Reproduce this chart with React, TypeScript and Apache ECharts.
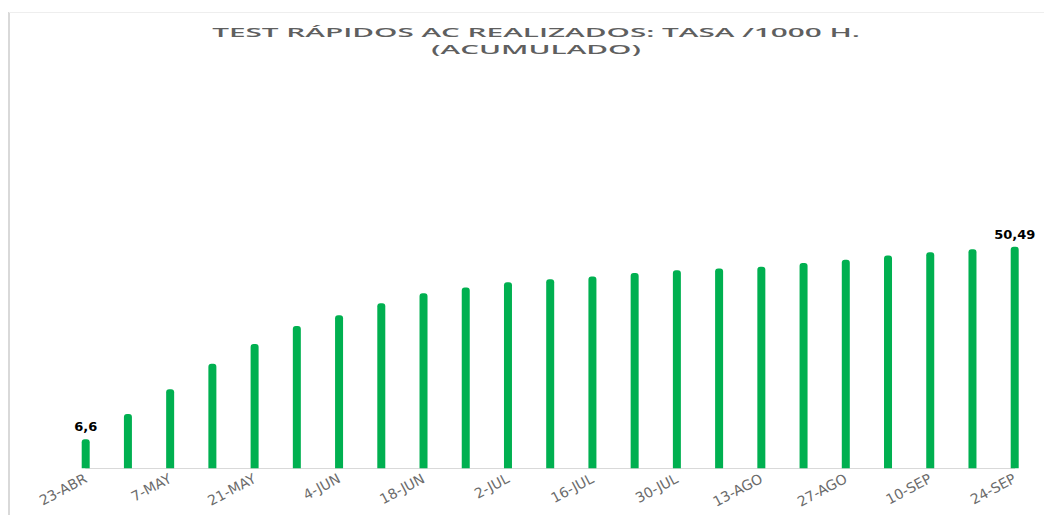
import React, { useEffect, useRef } from "react";
import * as echarts from "echarts";

const categories = [
  "23-ABR", "30-ABR", "7-MAY", "14-MAY", "21-MAY", "28-MAY", "4-JUN", "11-JUN",
  "18-JUN", "25-JUN", "2-JUL", "9-JUL", "16-JUL", "23-JUL", "30-JUL", "6-AGO",
  "13-AGO", "20-AGO", "27-AGO", "3-SEP", "10-SEP", "17-SEP", "24-SEP",
];
const values = [
  6.6, 12.4, 18.0, 23.8, 28.3, 32.4, 34.9, 37.6, 39.9, 41.2, 42.4, 43.1,
  43.7, 44.5, 45.1, 45.5, 45.9, 46.8, 47.5, 48.5, 49.2, 49.9, 50.49,
];
const labelledIndices = [0, 22];
const titleLines = ["TEST RÁPIDOS AC REALIZADOS: TASA /1000 H.", "(ACUMULADO)"];

const TITLE_FONT = 'normal 600 13px "Open Sans"';

function measure(text: string, font: string): number {
  const c = document.createElement("canvas");
  const ctx = c.getContext("2d");
  if (!ctx) return text.length * 8;
  ctx.font = font;
  return ctx.measureText(text).width;
}

export default function App() {
  const ref = useRef<HTMLDivElement>(null);

  useEffect(() => {
    if (!ref.current) return;
    const chart = echarts.init(ref.current, undefined, { renderer: "svg" });
    const w = measure(titleLines[0], TITLE_FONT);
    const sx = 648 / w;

    chart.setOption({
      animation: false,
      backgroundColor: "#ffffff",
      grid: { left: 85.7, right: 29.3, top: 73.3, bottom: 46.7, containLabel: false },
      xAxis: {
        type: "category",
        data: categories,
        boundaryGap: false,
        axisLine: { show: true, lineStyle: { color: "#d9d9d9", width: 1 } },
        axisTick: { show: false },
        axisLabel: {
          interval: 1,
          rotate: 28,
          margin: 9,
          color: "#6b6b6b",
          fontFamily: "DejaVu Sans",
          fontSize: 14,
        },
        splitLine: { show: false },
      },
      yAxis: {
        type: "value",
        min: 0,
        max: 90,
        show: false,
        splitLine: { show: false },
      },
      series: [
        {
          type: "bar",
          data: values,
          barWidth: 8,
          clip: false,
          itemStyle: { color: "#00b050", borderRadius: [3, 3, 0, 0] },
          label: {
            show: true,
            position: "top",
            distance: 6,
            color: "#000000",
            fontFamily: "DejaVu Sans",
            fontWeight: "bold",
            fontSize: 13,
            formatter: (p: any) =>
              labelledIndices.includes(p.dataIndex)
                ? String(p.value).replace(".", ",")
                : "",
          },
        },
      ],
      graphic: [
        {
          type: "line",
          shape: { x1: 9, y1: 12, x2: 9, y2: 515 },
          style: { stroke: "#d9d9d9", lineWidth: 2 },
          silent: true,
        },
        {
          type: "line",
          shape: { x1: 9, y1: 12.5, x2: 1044, y2: 12.5 },
          style: { stroke: "#eeeeee", lineWidth: 1 },
          silent: true,
        },
        {
          type: "text",
          x: 536,
          y: 32,
          scaleX: sx,
          style: {
            text: titleLines[0],
            font: TITLE_FONT,
            fill: "#5f5f5f",
            textAlign: "center",
            textVerticalAlign: "middle",
            align: "center",
            verticalAlign: "middle",
          },
        },
        {
          type: "text",
          x: 536,
          y: 48.5,
          scaleX: sx,
          style: {
            text: titleLines[1],
            font: TITLE_FONT,
            fill: "#5f5f5f",
            textAlign: "center",
            textVerticalAlign: "middle",
            align: "center",
            verticalAlign: "middle",
          },
        },
      ],
    });

    return () => {
      chart.dispose();
    };
  }, []);

  return (
    <div
      ref={ref}
      style={{ position: "absolute", left: 0, top: 0, width: 1044, height: 515 }}
    />
  );
}
